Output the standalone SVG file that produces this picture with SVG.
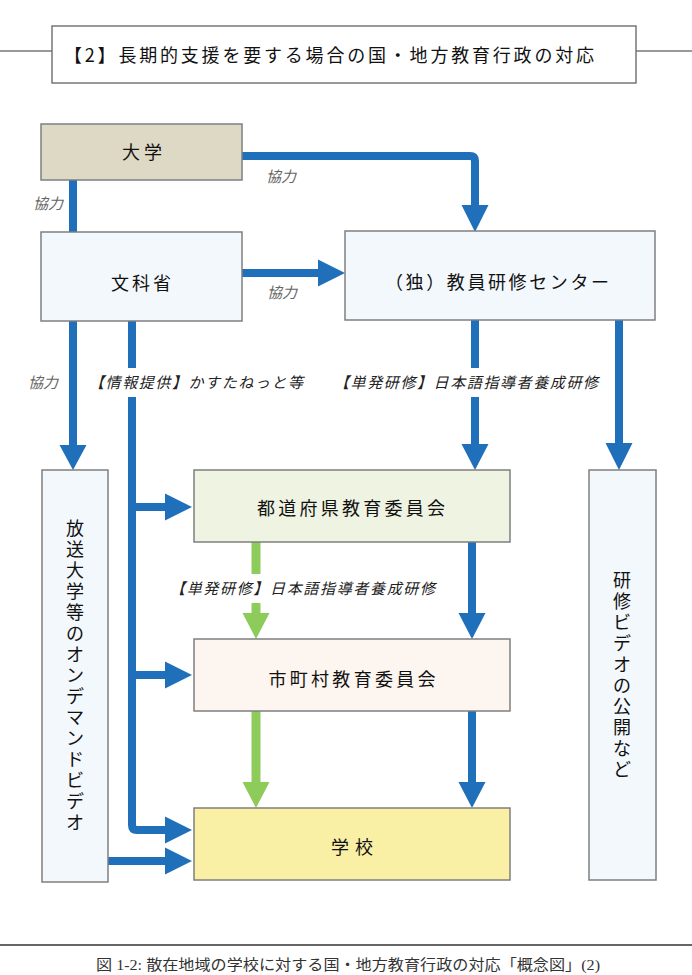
<svg xmlns="http://www.w3.org/2000/svg" width="692" height="975" viewBox="0 0 692 975">
<style>
.box{stroke:#7f7f7f;stroke-width:1.5}
.t{font-family:"Noto Sans CJK JP","Noto Sans",sans-serif;font-size:18px;fill:#111}
.lbl{font-family:"Noto Sans CJK JP","Noto Sans",sans-serif;font-size:15px;font-style:italic;fill:#222}
.kyo{font-family:"Noto Sans CJK JP","Noto Sans",sans-serif;font-size:15px;font-style:italic;fill:#666}
.bl{stroke:#1f6fba;stroke-width:8;fill:none}
.gr{stroke:#8dcc5b;stroke-width:9;fill:none}
.bh{fill:#1f6fba}
.gh{fill:#8dcc5b}
.cap{font-family:"Liberation Serif","Noto Sans CJK JP",serif;font-size:15px;fill:#333}
</style>
<rect width="692" height="975" fill="#fff"/>

<g id="title">
<line x1="0" y1="51" x2="52" y2="51" stroke="#777" stroke-width="1.5"/>
<line x1="636" y1="51" x2="692" y2="51" stroke="#777" stroke-width="1.5"/>
<rect x="52" y="26" width="584" height="57" fill="#fff" stroke="#777" stroke-width="1.5"/>
<text class="t" x="64" y="61.5" textLength="530" lengthAdjust="spacing">【2】長期的支援を要する場合の国・地方教育行政の対応</text>
</g>

<g id="connectors">
<line class="bl" x1="73" y1="180" x2="73" y2="232"/>
<path class="bl" d="M242,156 H470 Q475,156 475,161 V206"/>
<polygon class="bh" points="461.5,205 488.5,205 475,232"/>
<line class="bl" x1="242" y1="273" x2="319" y2="273"/>
<polygon class="bh" points="318,259.5 318,286.5 345,273"/>
<line class="bl" x1="73" y1="321" x2="73" y2="446"/>
<polygon class="bh" points="59.5,445 86.5,445 73,470"/>
<path class="bl" d="M132,321 V825 Q132,830 137,830 H166"/>
<polygon class="bh" points="165,816.5 165,843.5 192,830"/>
<line class="bl" x1="132" y1="507" x2="166" y2="507"/>
<polygon class="bh" points="165,493.5 165,520.5 192,507"/>
<line class="bl" x1="132" y1="675" x2="166" y2="675"/>
<polygon class="bh" points="165,661.5 165,688.5 192,675"/>
<line class="bl" x1="475" y1="320" x2="475" y2="445"/>
<polygon class="bh" points="461.5,444 488.5,444 475,470"/>
<line class="bl" x1="619" y1="320" x2="619" y2="444"/>
<polygon class="bh" points="605.5,443 632.5,443 619,470"/>
<line class="gr" x1="256" y1="542" x2="256" y2="614"/>
<polygon class="gh" points="242.5,613 269.5,613 256,639"/>
<line class="bl" x1="472" y1="542" x2="472" y2="614"/>
<polygon class="bh" points="458.5,613 485.5,613 472,639"/>
<line class="gr" x1="256" y1="711" x2="256" y2="783"/>
<polygon class="gh" points="242.5,782 269.5,782 256,808"/>
<line class="bl" x1="472" y1="711" x2="472" y2="783"/>
<polygon class="bh" points="458.5,782 485.5,782 472,808"/>
<line class="bl" x1="108" y1="861" x2="166" y2="861"/>
<polygon class="bh" points="165,847.5 165,874.5 192,861"/>
</g>

<g id="labels">
<text class="kyo" x="33" y="208.5">協力</text>
<text class="kyo" x="266" y="182">協力</text>
<text class="kyo" x="267" y="298">協力</text>
<text class="kyo" x="28" y="387.5">協力</text>
<rect x="88" y="368" width="218" height="29" fill="#fff"/>
<text class="lbl" x="89" y="387.5" textLength="214" lengthAdjust="spacing">【情報提供】かすたねっと等</text>
<rect x="333" y="368" width="268" height="29" fill="#fff"/>
<text class="lbl" x="334" y="387.5" textLength="264" lengthAdjust="spacing">【単発研修】日本語指導者養成研修</text>
<rect x="168" y="574" width="270" height="29" fill="#fff"/>
<text class="lbl" x="170" y="593.5" textLength="265" lengthAdjust="spacing">【単発研修】日本語指導者養成研修</text>
</g>

<g id="daigaku">
<rect class="box" x="41" y="124" width="201" height="56" fill="#ddd9c4"/>
<text class="t" x="142" y="159" text-anchor="middle" textLength="40" lengthAdjust="spacing">大学</text>
</g>
<g id="monkasho">
<rect class="box" x="41" y="232" width="201" height="89" fill="#f3f8fc"/>
<text class="t" x="141" y="289.5" text-anchor="middle" textLength="60" lengthAdjust="spacing">文科省</text>
</g>
<g id="center">
<rect class="box" x="345" y="231" width="310" height="89" fill="#f3f8fc"/>
<text class="t" x="497" y="288.5" text-anchor="middle" textLength="224" lengthAdjust="spacing">（独）教員研修センター</text>
</g>
<g id="todofuken">
<rect class="box" x="194" y="470" width="316" height="72" fill="#eef3e2"/>
<text class="t" x="351" y="515" text-anchor="middle" textLength="188" lengthAdjust="spacing">都道府県教育委員会</text>
</g>
<g id="shichoson">
<rect class="box" x="194" y="639" width="316" height="72" fill="#fdf5ef"/>
<text class="t" x="352" y="685.5" text-anchor="middle" textLength="167" lengthAdjust="spacing">市町村教育委員会</text>
</g>
<g id="gakko">
<rect class="box" x="194" y="808" width="316" height="72" fill="#f9efa5"/>
<text class="t" x="352" y="853.5" text-anchor="middle" textLength="42" lengthAdjust="spacing">学校</text>
</g>
<g id="hoso">
<rect class="box" x="42" y="470" width="66" height="412" fill="#f3f8fc"/>
<text class="t" text-anchor="middle"><tspan x="75" y="534.5">放</tspan><tspan x="75" y="555.5">送</tspan><tspan x="75" y="576.5">大</tspan><tspan x="75" y="597.5">学</tspan><tspan x="75" y="618.5">等</tspan><tspan x="75" y="639.5">の</tspan><tspan x="75" y="660.5">オ</tspan><tspan x="75" y="681.5">ン</tspan><tspan x="75" y="702.5">デ</tspan><tspan x="75" y="723.5">マ</tspan><tspan x="75" y="744.5">ン</tspan><tspan x="75" y="765.5">ド</tspan><tspan x="75" y="786.5">ビ</tspan><tspan x="75" y="807.5">デ</tspan><tspan x="75" y="828.5">オ</tspan></text>
</g>
<g id="video">
<rect class="box" x="589" y="470" width="67" height="410" fill="#f3f8fc"/>
<text class="t" text-anchor="middle"><tspan x="622" y="587">研</tspan><tspan x="622" y="608">修</tspan><tspan x="622" y="629">ビ</tspan><tspan x="622" y="650">デ</tspan><tspan x="622" y="671">オ</tspan><tspan x="622" y="692">の</tspan><tspan x="622" y="713">公</tspan><tspan x="622" y="734">開</tspan><tspan x="622" y="755">な</tspan><tspan x="622" y="776">ど</tspan></text>
</g>

<g id="caption">
<line x1="0" y1="945" x2="692" y2="945" stroke="#666" stroke-width="2"/>
<text class="cap" x="96" y="970" textLength="504" lengthAdjust="spacingAndGlyphs">図 1-2: 散在地域の学校に対する国・地方教育行政の対応「概念図」(2)</text>
</g>
</svg>
